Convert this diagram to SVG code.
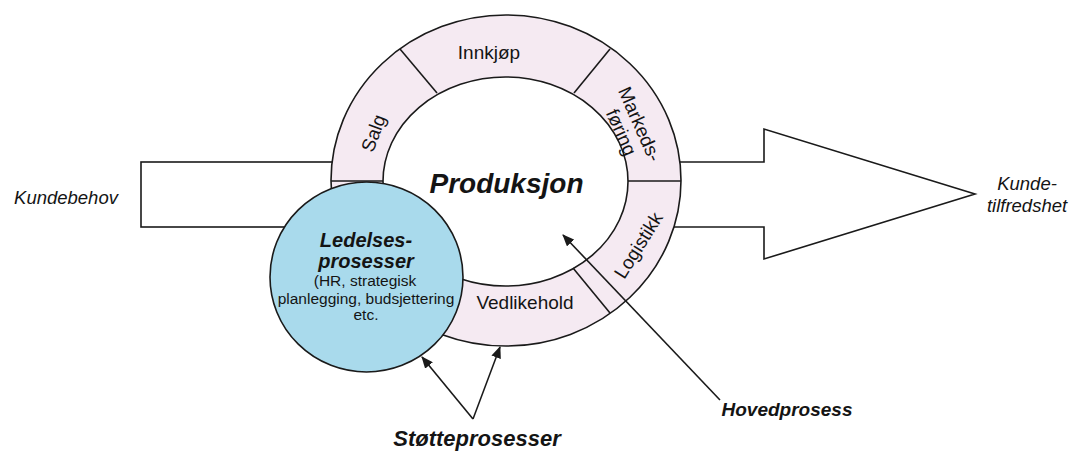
<svg xmlns="http://www.w3.org/2000/svg" width="1071" height="453" viewBox="0 0 1071 453">
  <style>
    .line { fill: none; stroke: #1a1a1a; stroke-width: 1.6; }
    .shape { stroke: #1a1a1a; stroke-width: 1.6; }
    .t { font-family: "Liberation Sans", Arial, sans-serif; fill: #141414; text-anchor: middle; }
    .seg { font-size: 19px; }
    .side { font-size: 18.5px; font-style: italic; }
    .bi { font-weight: bold; font-style: italic; }
    .small { font-size: 15.5px; }
  </style>
  <defs>
    <marker id="head" markerUnits="userSpaceOnUse" markerWidth="12" markerHeight="10" refX="11" refY="5" orient="auto">
      <path d="M0,0 L12,5 L0,10 Z" fill="#1a1a1a"/>
    </marker>
  </defs>

  <rect width="1071" height="453" fill="#ffffff"/>

  <!-- Input block: customer needs -->
  <g id="kundebehov">
    <rect class="shape" x="141" y="162" width="220" height="65" fill="#ffffff"/>
    <text class="t side" x="66" y="204">Kundebehov</text>
  </g>

  <!-- Output arrow: customer satisfaction -->
  <g id="kundetilfredshet">
    <polygon class="shape" fill="#ffffff" points="660,162 764,162 764,129 975,194 764,259 764,227 660,227"/>
    <text class="t side" x="1027" y="190">Kunde-</text>
    <text class="t side" x="1027" y="212">tilfredshet</text>
  </g>

  <!-- Process ring -->
  <g id="ring">
    <ellipse class="shape" cx="506" cy="180.5" rx="175" ry="165.5" fill="#f5eaf2"/>
    <ellipse class="shape" cx="505.5" cy="181.5" rx="122.5" ry="104.5" fill="#ffffff"/>
    <line class="line" x1="400" y1="49" x2="437" y2="93"/>
    <line class="line" x1="610" y1="49" x2="574" y2="93"/>
    <line class="line" x1="628" y1="181" x2="681" y2="181"/>
    <line class="line" x1="573" y1="268" x2="610" y2="313"/>
    <line class="line" x1="331" y1="181" x2="383" y2="181"/>
  </g>

  <g id="salg">
    <text class="t seg" transform="translate(373,133) rotate(-70)" x="0" y="7">Salg</text>
  </g>
  <g id="innkjop">
    <text class="t seg" x="489" y="59">Innkjøp</text>
  </g>
  <g id="markedsforing">
    <g transform="translate(631,128) rotate(66)">
      <text class="t seg" x="0" y="-3">Markeds-</text>
      <text class="t seg" x="0" y="17">føring</text>
    </g>
  </g>
  <g id="logistikk">
    <text class="t seg" transform="translate(638,245) rotate(-58)" x="0" y="7">Logistikk</text>
  </g>
  <g id="vedlikehold">
    <text class="t seg" x="525" y="309">Vedlikehold</text>
  </g>
  <g id="produksjon">
    <text class="t bi" x="506.5" y="193" font-size="28">Produksjon</text>
  </g>

  <!-- Management processes -->
  <g id="ledelsesprosesser">
    <ellipse class="shape" cx="366.5" cy="277" rx="96.5" ry="95" fill="#a9daec"/>
    <text class="t bi" x="366" y="247" font-size="20">Ledelses-</text>
    <text class="t bi" x="366" y="268" font-size="20">prosesser</text>
    <text class="t small" x="365" y="286">(HR, strategisk</text>
    <text class="t small" x="366" y="304">planlegging, budsjettering</text>
    <text class="t small" x="366" y="320">etc.</text>
  </g>

  <!-- Connectors -->
  <g id="connectors">
    <line class="line" x1="720" y1="400" x2="563" y2="235" marker-end="url(#head)"/>
    <line class="line" x1="473" y1="419" x2="422" y2="357" marker-end="url(#head)"/>
    <line class="line" x1="473" y1="419" x2="500" y2="347" marker-end="url(#head)"/>
  </g>

  <g id="hovedprosess">
    <text class="t bi" x="787" y="416" font-size="19">Hovedprosess</text>
  </g>
  <g id="stotteprosesser">
    <text class="t bi" x="477" y="446" font-size="22">Støtteprosesser</text>
  </g>
</svg>
